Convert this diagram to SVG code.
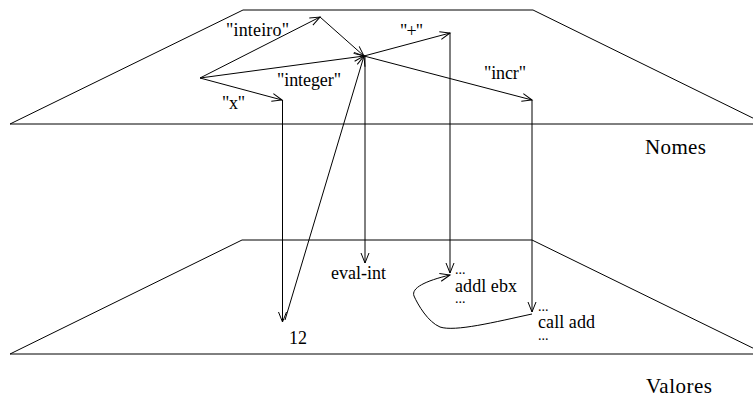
<svg xmlns="http://www.w3.org/2000/svg" width="753" height="400" viewBox="0 0 753 400">
<style>
.pl{fill:none;stroke:#000;stroke-width:1}
.c{fill:none;stroke:#000;stroke-width:1;marker-end:url(#ah)}
text{font-family:"Liberation Serif","Times New Roman",serif;font-size:18px;fill:#000}
.big{font-size:21px}
.dots{font-size:14px}
</style>
<defs>
<marker id="ah" markerUnits="userSpaceOnUse" markerWidth="12" markerHeight="10" refX="10" refY="4" orient="auto" overflow="visible">
<path d="M0,0 L10,4 L0,8" fill="none" stroke="#000" stroke-width="1"/>
</marker>
</defs>
<rect width="753" height="400" fill="#fff"/>
<g id="plane-nomes">
<path class="pl" d="M10,124 L243,10 L533,10 L765,124"/>
<line class="pl" x1="10" y1="124" x2="753" y2="124" stroke="#444" stroke-width="2"/>
<text class="big" x="645" y="154" textLength="61">Nomes</text>
</g>
<g id="plane-valores">
<path class="pl" d="M10,354 L242,240 L532,240 L765,354"/>
<line class="pl" x1="10" y1="354" x2="753" y2="354" stroke="#444" stroke-width="2"/>
<text class="big" x="646" y="393" textLength="66">Valores</text>
</g>
<g id="labels">
<text x="226" y="36" textLength="63">"inteiro"</text>
<text x="277" y="86" textLength="64">"integer"</text>
<text x="222" y="109" textLength="23">"x"</text>
<text x="400" y="37" textLength="23">"+"</text>
<text x="484" y="79" textLength="42">"incr"</text>
</g>
<g id="node-evalint"><text x="331" y="279" textLength="55">eval-int</text></g>
<g id="node-12"><text x="289" y="344">12</text></g>
<g id="node-addl">
<text class="dots" x="455" y="274">...</text>
<text x="455" y="292" textLength="62">addl ebx</text>
<text class="dots" x="455" y="303">...</text>
</g>
<g id="node-calladd">
<text class="dots" x="538" y="311">...</text>
<text x="538" y="328" textLength="57">call add</text>
<text class="dots" x="538" y="340">...</text>
</g>
<g id="connectors">
<line class="c" x1="200" y1="78" x2="320" y2="17"/>
<line class="c" x1="200" y1="78" x2="364" y2="56"/>
<line class="c" x1="200" y1="78" x2="282" y2="100"/>
<line class="c" x1="320" y1="17" x2="364" y2="56"/>
<line class="c" x1="364" y1="56" x2="450" y2="33"/>
<line class="c" x1="364" y1="56" x2="532" y2="100"/>
<line class="c" x1="365" y1="56" x2="365" y2="263"/>
<line class="c" x1="450" y1="33" x2="450" y2="273"/>
<line class="c" x1="532" y1="100" x2="532" y2="312"/>
<line class="c" x1="282.5" y1="100" x2="282.5" y2="322"/>
<line class="c" x1="285" y1="320" x2="364" y2="56"/>
<path class="c" d="M532,314 C495,322 455,332 440,327 C428,322 418,305 414,296 C411,288 425,281 450,275"/>
</g>
</svg>
